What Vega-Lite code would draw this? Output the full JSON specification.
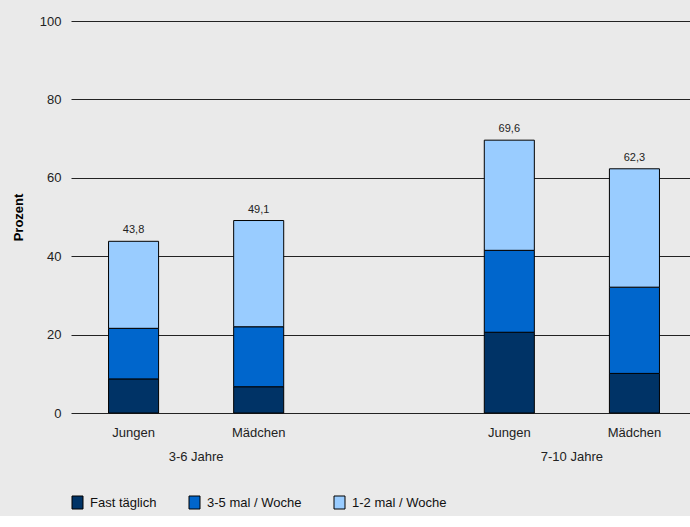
{
  "$schema": "https://vega.github.io/schema/vega-lite/v6.json",
  "width": 620,
  "height": 392,
  "padding": {"left": 12, "top": 15, "right": 0, "bottom": 5},
  "background": "#eaeaea",
  "config": {
    "view": {"stroke": null},
    "font": "Liberation Sans",
    "locale": {"number": {"decimal": ",", "thousands": ".", "grouping": [3], "currency": ["", " €"]}}
  },
  "data": {
    "values": [
      {"alter": "3-6 Jahre", "geschlecht": "Jungen", "haeufigkeit": "Fast täglich", "prozent": 8.7},
      {"alter": "3-6 Jahre", "geschlecht": "Jungen", "haeufigkeit": "3-5 mal / Woche", "prozent": 12.9},
      {"alter": "3-6 Jahre", "geschlecht": "Jungen", "haeufigkeit": "1-2 mal / Woche", "prozent": 22.2},
      {"alter": "3-6 Jahre", "geschlecht": "Mädchen", "haeufigkeit": "Fast täglich", "prozent": 6.7},
      {"alter": "3-6 Jahre", "geschlecht": "Mädchen", "haeufigkeit": "3-5 mal / Woche", "prozent": 15.3},
      {"alter": "3-6 Jahre", "geschlecht": "Mädchen", "haeufigkeit": "1-2 mal / Woche", "prozent": 27.1},
      {"alter": "7-10 Jahre", "geschlecht": "Jungen", "haeufigkeit": "Fast täglich", "prozent": 20.6},
      {"alter": "7-10 Jahre", "geschlecht": "Jungen", "haeufigkeit": "3-5 mal / Woche", "prozent": 20.9},
      {"alter": "7-10 Jahre", "geschlecht": "Jungen", "haeufigkeit": "1-2 mal / Woche", "prozent": 28.1},
      {"alter": "7-10 Jahre", "geschlecht": "Mädchen", "haeufigkeit": "Fast täglich", "prozent": 10.1},
      {"alter": "7-10 Jahre", "geschlecht": "Mädchen", "haeufigkeit": "3-5 mal / Woche", "prozent": 22.0},
      {"alter": "7-10 Jahre", "geschlecht": "Mädchen", "haeufigkeit": "1-2 mal / Woche", "prozent": 30.2}
    ]
  },
  "encoding": {
    "x": {
      "field": "alter",
      "type": "nominal",
      "sort": ["3-6 Jahre", "7-10 Jahre"],
      "scale": {"range": [0, 626], "paddingInner": 0.334, "paddingOuter": 0},
      "axis": {"title": null, "labelAngle": 0, "ticks": false, "tickSize": 0, "domain": false, "labelPadding": 37, "labelFontSize": 13, "labelColor": "#222"}
    },
    "xOffset": {
      "field": "geschlecht",
      "type": "nominal",
      "sort": ["Jungen", "Mädchen"],
      "scale": {"paddingInner": 0.6, "paddingOuter": 0.3}
    }
  },
  "layer": [
    {
      "mark": {"type": "bar", "stroke": "#000", "strokeWidth": 1},
      "encoding": {
        "y": {
          "field": "prozent",
          "type": "quantitative",
          "stack": "zero",
          "scale": {"domain": [0, 100]},
          "axis": {"title": "Prozent", "titleFontSize": 13, "titleFontWeight": "bold", "titleColor": "#000", "titlePadding": 14, "values": [0, 20, 40, 60, 80, 100], "ticks": false, "domain": false, "labelPadding": 10, "labelFontSize": 13, "labelColor": "#222", "gridColor": "#000", "gridWidth": 1, "gridOpacity": 0.85}
        },
        "color": {
          "field": "haeufigkeit",
          "type": "nominal",
          "sort": ["Fast täglich", "3-5 mal / Woche", "1-2 mal / Woche"],
          "scale": {"domain": ["Fast täglich", "3-5 mal / Woche", "1-2 mal / Woche"], "range": ["#003366", "#0066cc", "#99ccff"]},
          "legend": {"title": null, "orient": "bottom", "direction": "horizontal", "symbolType": "M-1.1,-1.3H1.1V1.3H-1.1Z", "symbolSize": 100, "symbolStrokeColor": "#000", "symbolStrokeWidth": 1, "symbolOpacity": 1, "labelFontSize": 13, "labelColor": "#111", "labelOffset": 6, "columnPadding": 30, "offset": 33}
        },
        "order": {"field": "haeufigkeit", "sort": "descending"}
      }
    },
    {
      "transform": [{"aggregate": [{"op": "sum", "field": "prozent", "as": "gesamt"}], "groupby": ["alter", "geschlecht"]}],
      "mark": {"type": "text", "dy": -11, "fontSize": 11, "color": "#222"},
      "encoding": {
        "y": {"field": "gesamt", "type": "quantitative"},
        "text": {"field": "gesamt", "type": "quantitative", "format": ".1f"}
      }
    },
    {
      "transform": [{"aggregate": [{"op": "count", "as": "n"}], "groupby": ["alter", "geschlecht"]}],
      "mark": {"type": "text", "baseline": "middle", "dy": 20, "fontSize": 13, "color": "#222"},
      "encoding": {
        "y": {"datum": 0},
        "text": {"field": "geschlecht", "type": "nominal"}
      }
    }
  ]
}
